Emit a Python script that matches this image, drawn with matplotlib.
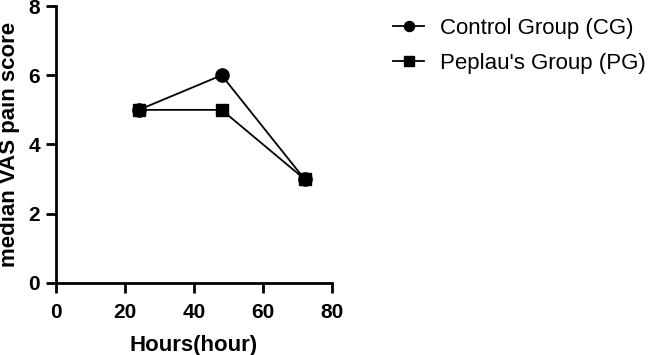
import matplotlib
matplotlib.use("Agg")
import matplotlib.pyplot as plt

plt.rcParams['font.family'] = ['Liberation Sans', 'DejaVu Sans']

# ───────── Data ─────────────────────────────────────────────
hours = [24, 48, 72]
control_group = [5, 6, 3]
peplau_group = [5, 5, 3]

x_ticks = [0, 20, 40, 60, 80]
y_ticks = [0, 2, 4, 6, 8]

fig = plt.figure(figsize=(6.5, 3.55), dpi=100)
ax = fig.add_axes([0.086, 0.203, 0.425, 0.780])

ax.plot(hours, control_group, '-o', color='black', lw=1.3, ms=9.5,
        label='Control Group (CG)', clip_on=False)
ax.plot(hours, peplau_group, '-s', color='black', lw=1.3, ms=9,
        label="Peplau's Group (PG)", clip_on=False)

ax.set_xlim(0, 80)
ax.set_ylim(0, 8)
ax.set_xticks(x_ticks)
ax.set_yticks(y_ticks)

for side in ('top', 'right'):
    ax.spines[side].set_visible(False)
for side in ('left', 'bottom'):
    ax.spines[side].set_linewidth(2)

ax.tick_params(axis='both', width=2, length=7.5, labelsize=15)
ax.tick_params(axis='x', pad=7)
ax.tick_params(axis='y', pad=4)
for lbl in ax.get_xticklabels() + ax.get_yticklabels():
    lbl.set_fontweight('bold')

ax.set_xlabel('Hours(hour)', fontsize=16, fontweight='bold', labelpad=9)
ax.set_ylabel('median VAS pain score', fontsize=16, fontweight='bold', labelpad=6)

fig.legend(loc='upper left', bbox_to_anchor=(0.574, 1.006), frameon=False,
           fontsize=16, handlelength=1.4, handletextpad=0.72, labelspacing=0.62,
           markerscale=0.76)

fig.savefig('out.png', dpi=100)
